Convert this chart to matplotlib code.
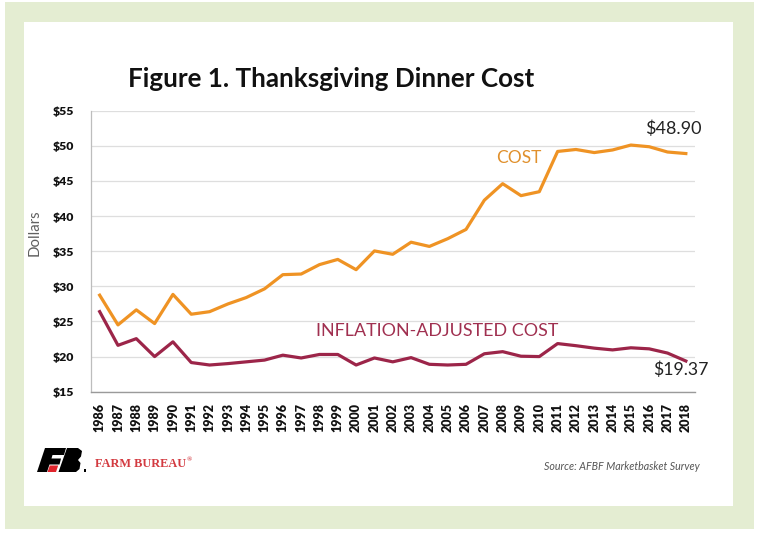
import matplotlib
matplotlib.use("Agg")
import matplotlib.pyplot as plt
from matplotlib.patches import Rectangle, Polygon

years = list(range(1986, 2019))
cost = [28.74, 24.51, 26.65, 24.70, 28.85, 26.03, 26.39, 27.49, 28.40, 29.64,
        31.66, 31.75, 33.09, 33.83, 32.37, 35.04, 34.56, 36.28, 35.68, 36.78,
        38.10, 42.26, 44.61, 42.91, 43.47, 49.20, 49.48, 49.04, 49.41, 50.11,
        49.87, 49.12, 48.90]
adjusted = [26.4, 21.6, 22.55, 20.0, 22.1, 19.15, 18.8, 19.0, 19.25, 19.5,
            20.2, 19.8, 20.3, 20.3, 18.8, 19.8, 19.25, 19.85, 18.9, 18.8,
            18.9, 20.4, 20.7, 20.05, 20.0, 21.85, 21.55, 21.2, 20.95, 21.25,
            21.1, 20.5, 19.37]
y_ticks = [15, 20, 25, 30, 35, 40, 45, 50, 55]
y_tick_labels = ["$15", "$20", "$25", "$30", "$35", "$40", "$45", "$50", "$55"]
title = "Figure 1. Thanksgiving Dinner Cost"
source = "Source: AFBF Marketbasket Survey"

W, H = 762, 539
fig = plt.figure(figsize=(W / 100, H / 100), dpi=100)
fig.patch.set_facecolor("white")

def px_rect(x0, y0, x1, y1, color, z):
    fig.patches.append(Rectangle((x0 / W, 1 - y1 / H), (x1 - x0) / W, (y1 - y0) / H,
                                 transform=fig.transFigure, facecolor=color,
                                 edgecolor="none", zorder=z))

px_rect(5, 2, 754, 529, "#e4edd2", -2)
px_rect(24, 22, 733, 506, "white", -1)

ax_l, ax_r, ax_t, ax_b = 90.5, 695, 110.7, 391.7
ax = fig.add_axes([ax_l / W, 1 - ax_b / H, (ax_r - ax_l) / W, (ax_b - ax_t) / H])
ax.set_facecolor("none")

orange = "#ef9324"
maroon = "#9c2549"
ax.plot(years, cost, color=orange, lw=2.3, solid_joinstyle="round", zorder=3)
ax.plot(years, adjusted, color=maroon, lw=2.3, solid_joinstyle="round", zorder=3)

ax.set_xlim(1985.5, 2018.5)
ax.set_ylim(15, 55)
ax.set_yticks(y_ticks)
ax.set_yticklabels(y_tick_labels)
ax.set_xticks(years)
ax.set_xticklabels([str(y) for y in years], rotation=90)
ax.grid(axis="y", color="#dedede", lw=0.9)
ax.set_axisbelow(True)
for s in ["top", "right"]:
    ax.spines[s].set_visible(False)
ax.spines["left"].set_color("#bdbdbd")
ax.spines["left"].set_linewidth(0.9)
ax.spines["bottom"].set_color("#9a9a9a")
ax.spines["bottom"].set_linewidth(1.0)
ax.tick_params(axis="both", length=0)
ax.tick_params(axis="y", pad=12)
ax.tick_params(axis="x", pad=8)
for lab in ax.get_yticklabels():
    lab.set_fontfamily("Lato"); lab.set_fontweight("heavy"); lab.set_fontsize(8.8); lab.set_color("#111111")
for lab in ax.get_xticklabels():
    lab.set_fontfamily("Lato"); lab.set_fontweight("heavy"); lab.set_fontsize(9.0); lab.set_color("#111111")

renderer = fig.canvas.get_renderer()

def fit(t, target_w):
    w = t.get_window_extent(renderer).width
    t.set_fontsize(t.get_fontsize() * target_w / w)

def ftext(x, y, s, target_w=None, **kw):
    t = fig.text(x / W, 1 - y / H, s, **kw)
    if target_w:
        fit(t, target_w)
    return t

ftext(331, 79, title, 406, ha="center", va="center", fontfamily="Lato",
      fontweight="bold", fontsize=20, color="#111111")
ftext(35, 233, "Dollars", None, ha="center", va="center", rotation=90,
      fontfamily="Lato", fontsize=10.8, color="#606060")
# series labels
ftext(519, 158, "COST", 45, ha="center", va="center", fontfamily="Lato",
      fontsize=12, color="#e0902c")
ftext(437.5, 331, "INFLATION-ADJUSTED COST", 241, ha="center", va="center",
      fontfamily="Lato", fontsize=12, color="#a03050")
ftext(673, 129, "$48.90", 56, ha="center", va="center", fontfamily="Lato",
      fontsize=12, color="#222222")
ftext(681, 370, "$19.37", 55, ha="center", va="center", fontfamily="Lato",
      fontsize=12, color="#222222")
ftext(622, 466, source, 155, ha="center", va="center", fontfamily="Lato",
      style="italic", fontsize=7, color="#555555")
ftext(95, 464, "FARM BUREAU", 91, ha="left", va="center",
      fontfamily="Liberation Serif", fontweight="bold", fontsize=9, color="#d33a40")
ftext(186.5, 459.5, "\u00ae", None, ha="left", va="center",
      fontfamily="Liberation Serif", fontweight="bold", fontsize=5, color="#d33a40")

# logo (decorative)
lax = fig.add_axes([34 / W, 1 - 475 / H, 54 / W, 30 / H])
lax.set_xlim(34, 88)
lax.set_ylim(475, 445)
lax.axis("off")
F = [(45, 448), (66, 448), (64, 455), (52.5, 455), (51.5, 458.5), (61, 458.5),
     (59.5, 464.5), (49.5, 464.5), (47, 472), (37, 472)]
B = [(67, 448), (78, 448), (82, 451), (81, 456.5), (78, 460), (80.5, 463),
     (79.5, 469), (76, 472), (58.5, 472)]
R = [(49.8, 465.5), (58.2, 465.5), (56, 472), (47.5, 472)]
lax.add_patch(Polygon(F, closed=True, facecolor="black", edgecolor="none"))
lax.add_patch(Polygon(B, closed=True, facecolor="black", edgecolor="none"))
lax.add_patch(Polygon(R, closed=True, facecolor="#e0242c", edgecolor="none"))
lax.add_patch(Rectangle((84, 469), 2.2, 2.5, facecolor="black", edgecolor="none"))

fig.savefig("out.png", dpi=100, facecolor="white")
